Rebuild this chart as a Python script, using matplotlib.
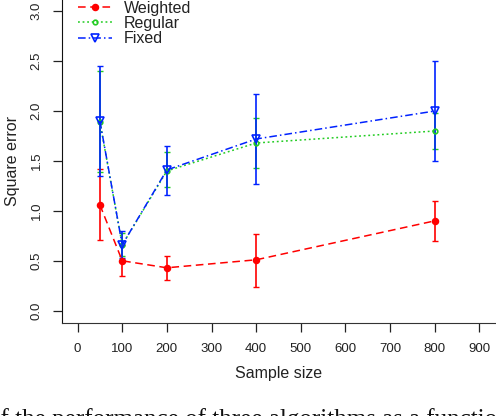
import matplotlib
matplotlib.use("Agg")
import matplotlib.pyplot as plt
import numpy as np

plt.rcParams['font.family'] = ['Liberation Sans', 'DejaVu Sans']

# Data
sample_sizes = [50, 100, 200, 400, 800]

weighted = [1.06, 0.50, 0.43, 0.51, 0.90]
weighted_lo = [0.71, 0.35, 0.31, 0.24, 0.70]
weighted_hi = [1.42, 0.66, 0.55, 0.77, 1.10]

regular = [1.89, 0.66, 1.40, 1.68, 1.80]
regular_lo = [1.39, 0.55, 1.24, 1.43, 1.62]
regular_hi = [2.40, 0.78, 1.59, 1.93, 1.98]

fixed = [1.90, 0.66, 1.41, 1.72, 2.00]
fixed_lo = [1.35, 0.53, 1.16, 1.27, 1.50]
fixed_hi = [2.45, 0.80, 1.65, 2.17, 2.50]

x_ticks = [0, 100, 200, 300, 400, 500, 600, 700, 800, 900]
y_ticks = [0.0, 0.5, 1.0, 1.5, 2.0, 2.5, 3.0]
y_tick_labels = ["0.0", "0.5", "1.0", "1.5", "2.0", "2.5", "3.0"]

series = [
    ("Weighted", weighted, weighted_lo, weighted_hi, "#FF0000", (0, (5, 3)), "o", 4.2, "#FF0000"),
    ("Regular", regular, regular_lo, regular_hi, "#22CC22", (0, (1.2, 1.8)), "o", 3.3, "none"),
    ("Fixed", fixed, fixed_lo, fixed_hi, "#0022FF", (0, (5, 2, 1, 2)), "v", 5.5, "none"),
]

W, H = 496, 416
fig = plt.figure(figsize=(W / 100, H / 100), dpi=100)
ax = fig.add_axes([61.5 / W, 93.3 / H, 434 / W, (416.8 - 93.3) / H])
ax.set_xlim(-36, 936)
ax.set_ylim(-0.12, 3.12)

for name, vals, lo, hi, col, ls, mk, ms, mfc in series:
    vals = np.array(vals)
    yerr = np.vstack([vals - np.array(lo), np.array(hi) - vals])
    ax.errorbar(sample_sizes, vals, yerr=yerr, fmt='none', ecolor=col,
                elinewidth=1.2, capsize=2.5, capthick=1.0, zorder=2)
    ax.plot(sample_sizes, vals, color=col, linestyle=ls, linewidth=1.1,
            marker=mk, markersize=ms, markerfacecolor=mfc,
            markeredgecolor=col, markeredgewidth=1.2, label=name, zorder=3)

for s in ['top', 'right']:
    ax.spines[s].set_visible(False)
ax.spines['left'].set_color('#111111')
ax.spines['bottom'].set_color('#333333')

ax.set_xticks(x_ticks)
ax.set_xticklabels([str(t) for t in x_ticks])
ax.set_yticks(y_ticks)
ax.set_yticklabels(y_tick_labels, rotation=90, va='center')
ax.tick_params(axis='both', direction='out', length=6.5, width=0.9,
               labelsize=9.5, labelcolor='#222222', color='#222222')
ax.tick_params(axis='x', pad=8)
ax.tick_params(axis='y', pad=7)

ax.set_xlabel("Sample size", fontsize=11.5, color='#222222', labelpad=8)
ax.set_ylabel("Square error", fontsize=11.5, color='#222222', labelpad=8)

leg = ax.legend(loc='upper left', bbox_to_anchor=(78 / W, 1 - 0.5 / H),
                bbox_transform=fig.transFigure, frameon=False, borderpad=0,
                borderaxespad=0, handlelength=2.1, handletextpad=0.75,
                labelspacing=0.02, fontsize=11.5)
for t in leg.get_texts():
    t.set_color('#222222')

fig.text(-0.024, 1 - 426.4 / H, "of the performance of three algorithms as a function of",
         family=['Liberation Serif', 'DejaVu Serif'], fontsize=18, va='baseline', ha='left',
         color='#111111')

fig.savefig("out.png", dpi=100)
